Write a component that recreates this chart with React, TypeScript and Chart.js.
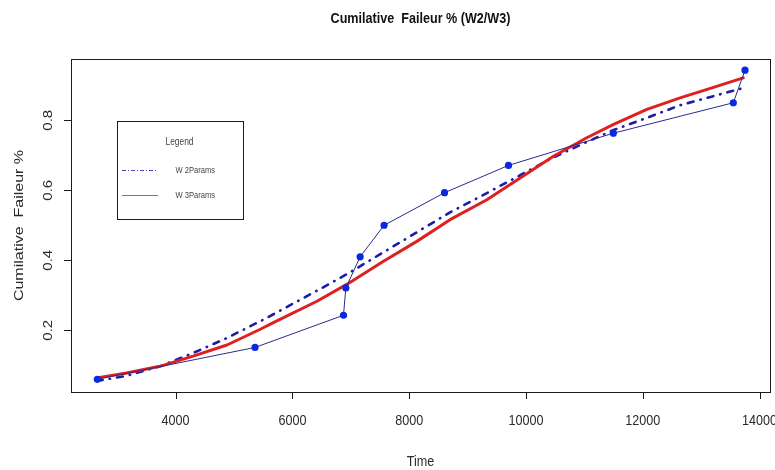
import React, { useEffect, useRef } from "react";
import { Chart, registerables } from "chart.js";
Chart.register(...registerables);

const chartTitle = "Cumilative  Faileur % (W2/W3)";
const xTitle = "Time";
const yTitle = "Cumilative  Faileur %";
const legendTitle = "Legend";

const obsTime = [2660, 5360, 6875, 6915, 7160, 7570, 8605, 9700, 11495, 13550, 13750];
const obsFail = [0.06, 0.151, 0.243, 0.321, 0.41, 0.5, 0.593, 0.671, 0.763, 0.85, 0.943];

const fitTime = [2650, 3160, 3730, 4300, 4880, 5450, 5700, 6420, 6930, 7560, 8130, 8700, 9330, 9900, 10470, 11040, 11500, 12070, 12640, 13210, 13720];
const w2Fail = [0.055, 0.07, 0.097, 0.135, 0.178, 0.226, 0.248, 0.313, 0.36, 0.423, 0.48, 0.537, 0.592, 0.643, 0.694, 0.738, 0.772, 0.807, 0.843, 0.869, 0.892];
const w3Fail = [0.064, 0.078, 0.097, 0.126, 0.158, 0.203, 0.224, 0.283, 0.331, 0.397, 0.454, 0.516, 0.573, 0.635, 0.697, 0.75, 0.788, 0.831, 0.864, 0.894, 0.921];

const xTicks = [4000, 6000, 8000, 10000, 12000, 14000];
const yTicks = [0.2, 0.4, 0.6, 0.8];
const yTickLabels = ["0.2", "0.4", "0.6", "0.8"];

const W2_COLOR = "#1c1ca8";
const W3_COLOR = "#de2020";
const OBS_LINE = "#2a2a8a";
const OBS_POINT = "#0a28e0";
const FONT = "'Liberation Sans', Arial, sans-serif";
const SQ = 0.84;

function drawText(ctx: CanvasRenderingContext2D, text: string, x: number, y: number, font: string, color: string, align: CanvasTextAlign = "center", rot = 0) {
  ctx.save();
  ctx.translate(x, y);
  ctx.scale(SQ, 1);
  ctx.rotate(rot);
  ctx.font = font;
  ctx.fillStyle = color;
  ctx.textAlign = align;
  ctx.textBaseline = "middle";
  ctx.fillText(text, 0, 0);
  ctx.restore();
}

const rStylePlugin = {
  id: "rStyle",
  afterDraw(chart: any) {
    const ctx: CanvasRenderingContext2D = chart.ctx;
    const a = chart.chartArea;
    const xs = chart.scales.x;
    const ys = chart.scales.y;
    ctx.save();
    // box
    ctx.strokeStyle = "#1a1a1a";
    ctx.lineWidth = 1;
    ctx.strokeRect(Math.round(a.left) + 0.5, Math.round(a.top) + 0.5, Math.round(a.right - a.left), Math.round(a.bottom - a.top));
    // x ticks
    ctx.beginPath();
    xTicks.forEach((v) => {
      const px = Math.round(xs.getPixelForValue(v)) + 0.5;
      ctx.moveTo(px, a.bottom);
      ctx.lineTo(px, a.bottom + 7);
    });
    yTicks.forEach((v) => {
      const py = Math.round(ys.getPixelForValue(v)) + 0.5;
      ctx.moveTo(a.left, py);
      ctx.lineTo(a.left - 7, py);
    });
    ctx.stroke();
    xTicks.forEach((v) => {
      drawText(ctx, String(v), xs.getPixelForValue(v), a.bottom + 29, `15px ${FONT}`, "#2a2a2a");
    });
    yTicks.forEach((v, i) => {
      drawText(ctx, yTickLabels[i], a.left - 22, ys.getPixelForValue(v), `15px ${FONT}`, "#2a2a2a", "center", -Math.PI / 2);
    });
    // axis titles
    drawText(ctx, xTitle, (a.left + a.right) / 2, 462, `15px ${FONT}`, "#2a2a2a");
    drawText(ctx, yTitle, 19, (a.top + a.bottom) / 2, `16px ${FONT}`, "#2a2a2a", "center", -Math.PI / 2);
    // title
    drawText(ctx, chartTitle, (a.left + a.right) / 2, 19, `bold 15px ${FONT}`, "#111");
    // legend box
    const lx = 117, ly = 121, lw = 126, lh = 98;
    ctx.strokeStyle = "#1a1a1a";
    ctx.lineWidth = 1;
    ctx.strokeRect(lx + 0.5, ly + 0.5, lw, lh);
    drawText(ctx, legendTitle, 179.5, 142.5, `10px ${FONT}`, "#444");
    const ds = chart.data.datasets;
    // W2 sample
    ctx.save();
    ctx.strokeStyle = W2_COLOR;
    ctx.globalAlpha = 0.8;
    ctx.lineWidth = 1;
    ctx.setLineDash([4, 2, 1, 2]);
    ctx.beginPath();
    ctx.moveTo(122, 170.5);
    ctx.lineTo(158, 170.5);
    ctx.stroke();
    ctx.setLineDash([]);
    ctx.strokeStyle = W3_COLOR;
    ctx.beginPath();
    ctx.moveTo(122, 195.5);
    ctx.lineTo(158, 195.5);
    ctx.stroke();
    ctx.restore();
    drawText(ctx, ds[2].label, 175.5, 170.5, `9px ${FONT}`, "#444", "left");
    drawText(ctx, ds[1].label, 175.5, 195.5, `9px ${FONT}`, "#444", "left");
    ctx.restore();
  },
};

export default function App() {
  const ref = useRef<HTMLCanvasElement | null>(null);
  useEffect(() => {
    if (!ref.current) return;
    const chart = new Chart(ref.current, {
      type: "line",
      data: {
        datasets: [
          {
            label: "Observed",
            data: obsTime.map((t, i) => ({ x: t, y: obsFail[i] })),
            borderColor: OBS_LINE,
            borderWidth: 1,
            pointRadius: 3.6,
            pointBackgroundColor: OBS_POINT,
            pointBorderColor: OBS_POINT,
            pointBorderWidth: 0,
            tension: 0,
          },
          {
            label: "W 3Params",
            data: fitTime.map((t, i) => ({ x: t, y: w3Fail[i] })),
            borderColor: W3_COLOR,
            borderWidth: 3,
            pointRadius: 0,
            borderCapStyle: "round",
            borderJoinStyle: "round",
            tension: 0,
          },
          {
            label: "W 2Params",
            data: fitTime.map((t, i) => ({ x: t, y: w2Fail[i] })),
            borderColor: W2_COLOR,
            borderWidth: 2.6,
            borderDash: [6, 7, 0.5, 7],
            borderCapStyle: "round",
            pointRadius: 0,
            tension: 0,
          },
        ],
      },
      options: {
        responsive: false,
        animation: false,
        events: [],
        layout: { padding: { left: 71, right: 5, top: 59, bottom: 78 } },
        plugins: { legend: { display: false }, title: { display: false }, tooltip: { enabled: false } },
        scales: {
          x: { type: "linear", min: 2209, max: 14178, display: false },
          y: { type: "linear", min: 0.0237, max: 0.975, display: false },
        },
      },
      plugins: [rStylePlugin],
    } as any);
    return () => chart.destroy();
  }, []);
  return (
    <div style={{ position: "absolute", left: 0, top: 0, width: 775, height: 470, background: "#fff" }}>
      <canvas ref={ref} width={775} height={470} style={{ display: "block" }} />
    </div>
  );
}
